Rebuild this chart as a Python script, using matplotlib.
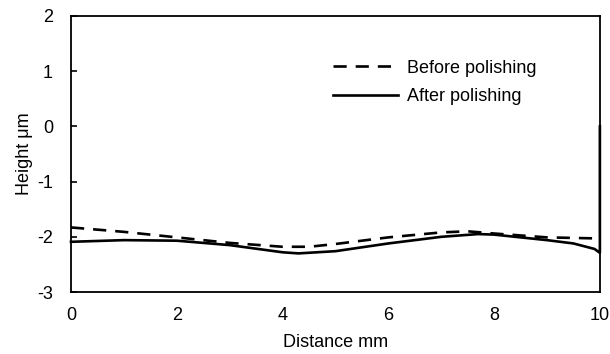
import matplotlib.pyplot as plt

plt.rcParams['font.family'] = ['Liberation Sans', 'DejaVu Sans']
plt.rcParams['font.size'] = 13
plt.rcParams['axes.unicode_minus'] = False

# profile before polishing (dashed)
x_before = [0, 1, 2, 3, 4, 4.5, 5, 6, 7, 7.5, 8, 9, 10]
y_before = [-1.83, -1.91, -2.01, -2.11, -2.18, -2.18, -2.13, -2.01, -1.92, -1.90, -1.94, -2.01, -2.03]

# profile after polishing (solid), ends with a jump at x = 10
x_after = [0, 1, 2, 3, 4, 4.3, 5, 6, 7, 7.7, 8, 9, 9.5, 9.9, 10, 10]
y_after = [-2.09, -2.06, -2.07, -2.15, -2.28, -2.30, -2.26, -2.12, -2.00, -1.95, -1.96, -2.06, -2.12, -2.22, -2.29, 0.0]

fig = plt.figure(figsize=(6.1, 3.54), dpi=100)
ax = fig.add_axes([0.1164, 0.175, 0.867, 0.78])

ax.plot(x_before, y_before, color='black', lw=1.9, ls=(0, (5, 3.4)), label='Before polishing')
ax.plot(x_after, y_after, color='black', lw=1.9, clip_on=False, label='After polishing')

ax.set_xlim(0, 10)
ax.set_ylim(-3, 2)
ax.set_xticks([0, 2, 4, 6, 8, 10])
ax.set_yticks([-3, -2, -1, 0, 1, 2])
ax.tick_params(axis='y', direction='in', length=4, width=1.2, pad=13)
ax.tick_params(axis='x', length=0, pad=11)
for s in ax.spines.values():
    s.set_linewidth(1.3)

ax.set_xlabel('Distance mm', labelpad=7)
ax.set_ylabel('Height μm', labelpad=3)

ax.legend(loc='upper left', bbox_to_anchor=(0.482, 0.868), borderaxespad=0, frameon=False,
          handlelength=3.6, handletextpad=0.5, labelspacing=0.65)

fig.savefig('out.png', dpi=100)
